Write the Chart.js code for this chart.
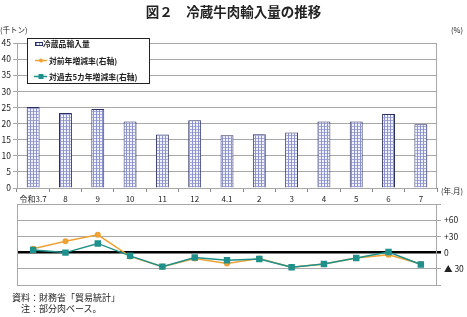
<!DOCTYPE html>
<html>
<head>
<meta charset="utf-8">
<script src="https://cdn.jsdelivr.net/npm/chart.js@4/dist/chart.umd.min.js"></script>
<style>
  body { margin: 0; background: #fff; font-family: "Noto Sans CJK JP", sans-serif; }
  #wrap { position: relative; width: 467px; height: 317px; overflow: hidden; }
  #wrap canvas { position: absolute; left: 0; top: 0; }
  .txt { position: absolute; white-space: nowrap; color: #222; }
</style>
</head>
<body>
<div id="wrap">
  <canvas id="barChart" width="467" height="317"></canvas>
  <canvas id="rateChart" width="467" height="317"></canvas>
  <div class="txt" style="left:0;width:467px;top:3px;text-align:center;font-size:13.5px;line-height:17px;font-weight:bold;">図２　冷蔵牛肉輸入量の推移</div>
  <div class="txt" style="left:0;top:25px;font-size:7.5px;line-height:10px;">(千トン)</div>
  <div class="txt" style="left:451px;top:25px;font-size:7.5px;line-height:10px;">(%)</div>
  <div class="txt" style="left:441px;top:186px;font-size:7.5px;line-height:10px;">(年.月)</div>
  <div class="txt" style="left:12px;top:292px;font-size:9px;line-height:11px;">資料：財務省「貿易統計」</div>
  <div class="txt" style="left:21px;top:303px;font-size:9px;line-height:11px;">注：部分肉ベース。</div>
</div>

<script>
// data
const months = ['令和3.7', '8', '9', '10', '11', '12', '4.1', '2', '3', '4', '5', '6', '7'];
const importVolume = [25.1, 23.3, 24.5, 20.6, 16.6, 21.0, 16.4, 16.7, 17.2, 20.6, 20.6, 23.0, 19.8];
const yoyRate = [7, 21, 33, -7, -26, -11, -20, -11, -27, -21, -10, -4, -21];
const fiveYearRate = [5, 0, 17, -6, -26, -9, -14, -12, -27, -21, -10, 1, -22];

const legendLabels = ['冷蔵品輸入量', '対前年増減率(右軸)', '対過去5カ年増減率(右軸)'];

const FONT = '"Noto Sans CJK JP", sans-serif';
Chart.defaults.font.family = FONT;
Chart.defaults.color = '#222';

const ORANGE = '#eea235';
const TEAL = '#1f918c';
const GRID = '#a8a8a8';

// small grid hatch used for the bars
function makeHatch() {
  const c = document.createElement('canvas');
  c.width = 3; c.height = 3;
  const g = c.getContext('2d');
  g.fillStyle = '#f2f3fb';
  g.fillRect(0, 0, 3, 3);
  g.fillStyle = '#8d93d0';
  g.fillRect(0, 0, 1, 3);
  g.fillStyle = '#a4a9dc';
  g.fillRect(1, 0, 2, 1);
  return g.createPattern(c, 'repeat');
}
const hatch = makeHatch();

// thin frame round the plot area
const frame = {
  id: 'frame',
  afterDraw(chart) {
    const a = chart.chartArea, ctx = chart.ctx;
    ctx.save();
    ctx.strokeStyle = GRID;
    ctx.lineWidth = 1;
    ctx.strokeRect(a.left + 0.5, a.top + 0.5, a.right - a.left - 1, a.bottom - a.top);
    ctx.restore();
  }
};

// legend box drawn inside the upper plot
const boxLegend = {
  id: 'boxLegend',
  afterDraw(chart) {
    const ctx = chart.ctx;
    ctx.save();
    ctx.fillStyle = '#fff';
    ctx.fillRect(27, 38, 122, 45);
    ctx.strokeStyle = '#222';
    ctx.lineWidth = 1;
    ctx.strokeRect(27.5, 38.5, 122, 45);

    ctx.font = 'bold 7.8px ' + FONT;
    ctx.fillStyle = '#222';
    ctx.textBaseline = 'middle';

    // bar swatch
    ctx.fillStyle = hatch;
    ctx.fillRect(35, 42, 8, 4);
    ctx.strokeStyle = '#2c3060';
    ctx.strokeRect(35.5, 42.5, 7, 3);
    ctx.fillStyle = '#222';
    ctx.fillText(legendLabels[0], 43, 44.5);

    // orange line
    ctx.strokeStyle = ORANGE;
    ctx.lineWidth = 1.5;
    ctx.beginPath(); ctx.moveTo(35, 60.5); ctx.lineTo(47, 60.5); ctx.stroke();
    ctx.fillStyle = ORANGE;
    ctx.beginPath(); ctx.arc(41, 60.5, 2, 0, Math.PI * 2); ctx.fill();
    ctx.fillStyle = '#222';
    ctx.fillText(legendLabels[1], 49, 61);

    // teal line
    ctx.strokeStyle = TEAL;
    ctx.beginPath(); ctx.moveTo(34, 76.5); ctx.lineTo(47, 76.5); ctx.stroke();
    ctx.fillStyle = TEAL;
    ctx.fillRect(38.5, 74, 5, 5);
    ctx.fillStyle = '#222';
    ctx.fillText(legendLabels[2], 49, 77);
    ctx.restore();
  }
};

new Chart(document.getElementById('barChart'), {
  type: 'bar',
  data: {
    labels: months,
    datasets: [{
      label: legendLabels[0],
      data: importVolume,
      backgroundColor: hatch,
      borderColor: '#2c3060',
      borderWidth: 1,
      barPercentage: 0.4,
      categoryPercentage: 1
    }]
  },
  options: {
    responsive: false,
    animation: false,
    layout: { padding: { left: 0, right: 30, top: 43, bottom: 109 } },
    plugins: { legend: { display: false }, tooltip: { enabled: false } },
    scales: {
      x: {
        offset: true,
        grid: { offset: true, drawOnChartArea: false, tickLength: 4, color: '#888' },
        border: { color: '#888' },
        ticks: { font: { size: 8 }, padding: 2, maxRotation: 0, autoSkip: false },
        afterFit(scale) { scale.height = 20; }
      },
      y: {
        min: 0,
        max: 45,
        ticks: { stepSize: 5, font: { size: 8.5 }, padding: 2 },
        grid: { color: GRID, tickLength: 4 },
        border: { color: '#888' },
        afterFit(scale) { scale.width = 17; }
      }
    }
  },
  plugins: [frame, boxLegend]
});

new Chart(document.getElementById('rateChart'), {
  type: 'line',
  data: {
    labels: months,
    datasets: [
      {
        label: legendLabels[1],
        data: yoyRate,
        borderColor: ORANGE,
        backgroundColor: ORANGE,
        borderWidth: 1.5,
        pointStyle: 'circle',
        pointRadius: 2.3,
        order: 1
      },
      {
        label: legendLabels[2],
        data: fiveYearRate,
        borderColor: TEAL,
        backgroundColor: TEAL,
        borderWidth: 1.5,
        pointStyle: 'rect',
        pointRadius: 3.5,
        order: 0
      }
    ]
  },
  options: {
    responsive: false,
    animation: false,
    layout: { padding: { left: 17, right: 0, top: 204, bottom: 32 } },
    plugins: { legend: { display: false }, tooltip: { enabled: false } },
    scales: {
      x: { display: false, offset: true },
      y: {
        position: 'right',
        min: -60,
        max: 90,
        ticks: {
          stepSize: 30,
          font: { size: 8.5 },
          padding: 3,
          callback(v) {
            if (v === 60 || v === 30) return '+' + v;
            if (v === 0) return '0';
            if (v === -30) return '▲ 30';
            return '';
          }
        },
        grid: {
          tickLength: 4,
          color: ctx => (ctx.tick && ctx.tick.value === 0) ? '#000' : GRID,
          lineWidth: ctx => (ctx.tick && ctx.tick.value === 0) ? 2.5 : 1
        },
        border: { display: false },
        afterFit(scale) { scale.width = 30; }
      }
    }
  },
  plugins: [frame]
});
</script>
</body>
</html>
